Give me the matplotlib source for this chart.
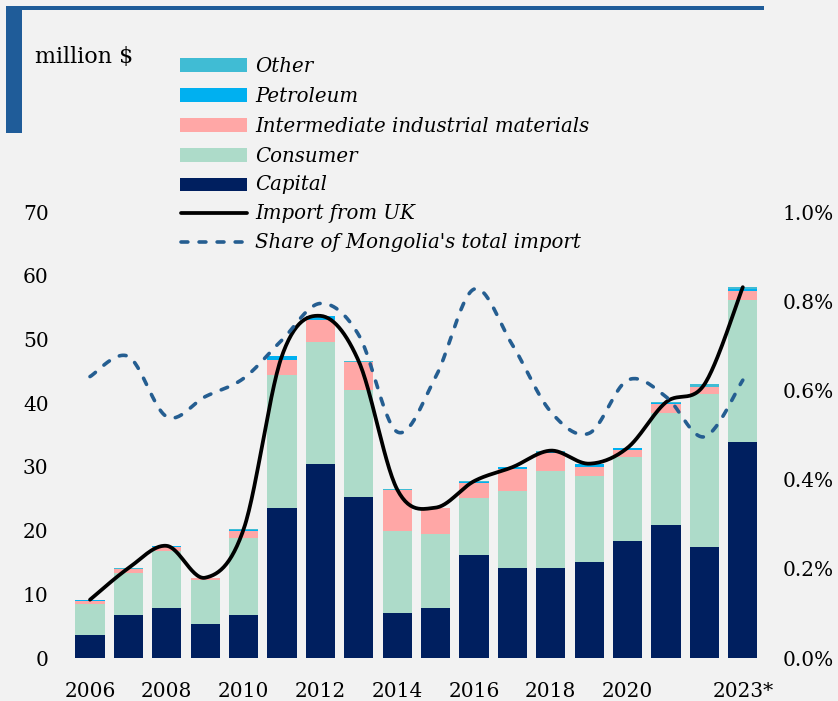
import numpy as np
import matplotlib
matplotlib.use("Agg")
import matplotlib.pyplot as plt
from matplotlib.patches import Rectangle
from matplotlib.lines import Line2D

# ---------------- data ----------------
years = list(range(2006, 2024))
tick_labels = ["2006", "", "2008", "", "2010", "", "2012", "", "2014", "",
               "2016", "", "2018", "", "2020", "", "", "2023*"]
capital = [3.6, 6.7, 7.8, 5.4, 6.7, 23.5, 30.4, 25.2, 7.1, 7.9,
           16.1, 14.1, 14.1, 15.0, 18.4, 20.8, 17.4, 33.9]
consumer = [4.8, 6.7, 9.0, 6.9, 12.2, 20.9, 19.2, 16.9, 12.8, 11.6,
            9.0, 12.1, 15.2, 13.6, 13.1, 17.6, 24.0, 22.3]
intermediate = [0.6, 0.5, 0.7, 0.2, 1.1, 2.3, 3.5, 4.3, 6.4, 4.0,
                2.3, 3.4, 2.9, 1.4, 1.2, 1.4, 1.1, 1.4]
petroleum = [0.1, 0.1, 0.05, 0.05, 0.1, 0.7, 0.5, 0.05, 0.05, 0.05,
             0.25, 0.3, 0.1, 0.45, 0.25, 0.15, 0.1, 0.35]
other = [0.05, 0.1, 0.05, 0.05, 0.1, 0.05, 0.1, 0.1, 0.1, 0.05,
         0.1, 0.05, 0.25, 0.05, 0.05, 0.2, 0.35, 0.25]
share_pct = [0.631, 0.676, 0.541, 0.586, 0.627, 0.713, 0.795, 0.724, 0.507, 0.630,
             0.827, 0.702, 0.552, 0.504, 0.623, 0.586, 0.496, 0.623]

# ---------------- style ----------------
BG = "#F2F2F2"
C_CAP = "#001F5F"
C_CON = "#ADDBC9"
C_INT = "#FFA7A6"
C_PET = "#00B0F0"
C_OTH = "#40BCD4"
C_DASH = "#255E91"
FRAME = "#1F5C99"
SERIF = ["DejaVu Serif"]

W, H = 838, 701
fig = plt.figure(figsize=(W / 100, H / 100), dpi=100, facecolor=BG)

def fx(px):
    return px / W

def fy(py):
    return 1 - py / H

# plot area
left, right, top, bottom = 70.8, 762.0, 212.0, 658.0
ax = fig.add_axes([fx(left), fy(bottom), fx(right - left), (bottom - top) / H])
ax.set_facecolor("none")

x = np.arange(len(years))
bw = 0.76
series = [(capital, C_CAP), (consumer, C_CON), (intermediate, C_INT),
          (petroleum, C_PET), (other, C_OTH)]
base = np.zeros(len(years))
for vals, col in series:
    v = np.array(vals)
    ax.bar(x, v, bw, bottom=base, color=col, linewidth=0, zorder=2)
    base = base + v
total = base


def catmull(xs, ys, n=30):
    xs = np.asarray(xs, float)
    ys = np.asarray(ys, float)
    P = np.column_stack([xs, ys])
    P = np.vstack([P[0], P, P[-1]])
    out = []
    t = np.linspace(0, 1, n)[:, None]
    for i in range(1, len(P) - 2):
        p0, p1, p2, p3 = P[i - 1], P[i], P[i + 1], P[i + 2]
        c1 = p1 + (p2 - p0) / 6
        c2 = p2 - (p3 - p1) / 6
        seg = ((1 - t) ** 3) * p1 + 3 * ((1 - t) ** 2) * t * c1 + 3 * (1 - t) * t ** 2 * c2 + t ** 3 * p2
        out.append(seg if i == 1 else seg[1:])
    out = np.vstack(out)
    return out[:, 0], out[:, 1]

sx, sy = catmull(x, total)
ax.plot(sx, sy, color="black", lw=2.7, solid_capstyle="round", zorder=4)

ax.set_xlim(-0.5, len(years) - 0.5)
ax.set_ylim(0, 70)
ax.set_yticks(range(0, 71, 10))
ax.set_xticks(x)
ax.set_xticklabels(tick_labels)

ax2 = ax.twinx()
ax2.set_ylim(0, 1.0)
ax2.set_yticks(np.arange(0, 1.01, 0.2))
ax2.set_yticklabels([f"{v:.1f}%" for v in np.arange(0, 1.01, 0.2)])
dx, dy = catmull(x, share_pct)
ax2.plot(dx, dy, color=C_DASH, lw=2.6, dashes=(1.9, 3.1), dash_capstyle="round", zorder=3)

for a in (ax, ax2):
    for s in a.spines.values():
        s.set_visible(False)
    a.tick_params(length=0, labelsize=14.5, colors="black")
    for lab in a.get_xticklabels() + a.get_yticklabels():
        lab.set_family(SERIF)
ax.tick_params(axis="y", pad=16)
ax.tick_params(axis="x", pad=17)
ax2.tick_params(axis="y", pad=15)

# ---------------- frame decoration ----------------
fig.patches.append(Rectangle((fx(6), fy(133)), fx(16), (133 - 6) / H,
                             transform=fig.transFigure, color=FRAME, lw=0))
fig.patches.append(Rectangle((fx(6), fy(10)), fx(758), 4 / H,
                             transform=fig.transFigure, color=FRAME, lw=0))

fig.text(fx(35), fy(57), "million $", family=SERIF, fontsize=16,
         va="center", ha="left")

# ---------------- legend ----------------
leg_items = [("Other", "patch", C_OTH), ("Petroleum", "patch", C_PET),
             ("Intermediate industrial materials", "patch", C_INT),
             ("Consumer", "patch", C_CON), ("Capital", "patch", C_CAP),
             ("Import from UK", "line", "black"),
             ("Share of Mongolia's total import", "dash", C_DASH)]
rows = [65, 95, 125, 155, 184, 213, 242]
for (lab, kind, col), ry in zip(leg_items, rows):
    if kind == "patch":
        fig.patches.append(Rectangle((fx(180), fy(ry + 6.5)), fx(67), 13 / H,
                                     transform=fig.transFigure, color=col, lw=0))
    elif kind == "line":
        fig.lines.append(Line2D([fx(181), fx(247)], [fy(ry), fy(ry)], transform=fig.transFigure,
                                color=col, lw=2.7, solid_capstyle="round"))
    else:
        fig.lines.append(Line2D([fx(181), fx(247)], [fy(ry), fy(ry)], transform=fig.transFigure,
                                color=col, lw=2.6, dashes=(1.9, 3.1), dash_capstyle="round"))
    fig.text(fx(255), fy(ry + 1), lab, family=SERIF, style="italic", fontsize=14.2,
             va="center", ha="left")

fig.savefig("out.png", dpi=100, facecolor=BG)
